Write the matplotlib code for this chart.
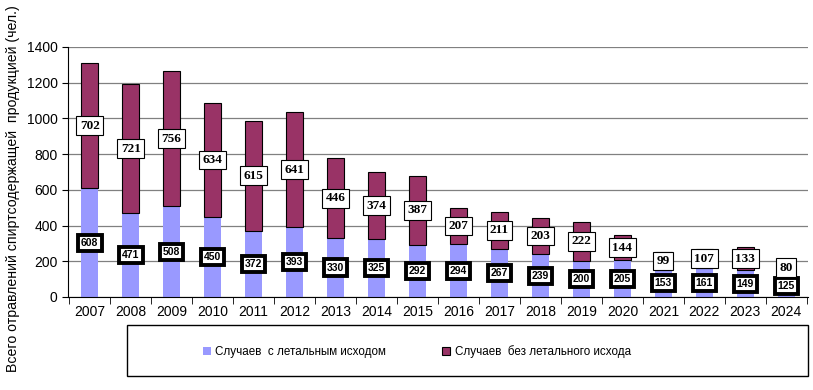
import numpy as np
import matplotlib
matplotlib.use("Agg")
import matplotlib.pyplot as plt

# data
years = ["2007", "2008", "2009", "2010", "2011", "2012", "2013", "2014", "2015",
         "2016", "2017", "2018", "2019", "2020", "2021", "2022", "2023", "2024"]
fatal = [608, 471, 508, 450, 372, 393, 330, 325, 292,
         294, 267, 239, 200, 205, 153, 161, 149, 125]
nonfatal = [702, 721, 756, 634, 615, 641, 446, 374, 387,
            207, 211, 203, 222, 144, 99, 107, 133, 80]

plt.rcParams['font.family'] = ['Liberation Sans', 'DejaVu Sans']

fig = plt.figure(figsize=(8.13, 3.9), dpi=100)
ax = fig.add_axes([68 / 813, 1 - 297 / 390, 740 / 813, 250 / 390])

x = np.arange(len(years))
w = 0.42
ax.bar(x, fatal, w, color="#9999FF", zorder=2)
ax.bar(x, nonfatal, w, bottom=fatal, color="#993366", edgecolor="black",
       linewidth=0.8, zorder=2)

# value labels
for i in range(len(years)):
    ax.text(x[i], fatal[i] / 2, str(fatal[i]), ha="center", va="center",
            fontsize=7.5, fontweight="bold", zorder=4,
            bbox=dict(boxstyle="square,pad=0.3", fc="white", ec="black", lw=2.8))
    ax.text(x[i], fatal[i] + nonfatal[i] / 2, str(nonfatal[i]), ha="center",
            va="center", fontsize=9.5, fontweight="bold", zorder=4,
            family="Liberation Serif",
            bbox=dict(boxstyle="square,pad=0.25", fc="white", ec="black", lw=0.8))

ax.set_xlim(-0.53, len(years) - 0.47)
ax.set_ylim(0, 1400)
ax.set_yticks(range(0, 1401, 200))
ax.yaxis.grid(True, color="#808080", lw=0.9, zorder=0)
ax.set_xticks(x)
ax.set_xticklabels(years, fontsize=10)
ax.tick_params(axis="x", length=0, pad=6)
ax.set_xticks(np.arange(-0.5, len(years), 1), minor=True)
ax.tick_params(axis="x", which="minor", length=5, direction="out", color="black")
ax.tick_params(axis="y", labelsize=10, length=4, direction="out")
for s in ["top", "right"]:
    ax.spines[s].set_visible(False)

fig.text(13 / 813, 1 - 189 / 390, "Всего отравлений спиртсодержащей  продукцией (чел.)",
         rotation=90, ha="center", va="center", fontsize=10.2)

# legend box
fig.patches.append(plt.Rectangle((127 / 813, 1 - 376 / 390), 681 / 813, 51 / 390,
                                 transform=fig.transFigure, fc="white", ec="black",
                                 lw=1.0))
handles = [plt.Rectangle((0, 0), 1, 1, fc="#9999FF", ec="none"),
           plt.Rectangle((0, 0), 1, 1, fc="#993366", ec="black", lw=0.8)]
fig.legend(handles, ["Случаев  с летальным исходом", "Случаев  без летального исхода"],
           loc="center left", ncol=2, fontsize=8.4,
           bbox_to_anchor=(192 / 813, 1 - 352 / 390),
           handlelength=0.7, handleheight=0.7, handletextpad=0.4,
           columnspacing=4.8, frameon=False)

fig.savefig("out.png", dpi=100)
